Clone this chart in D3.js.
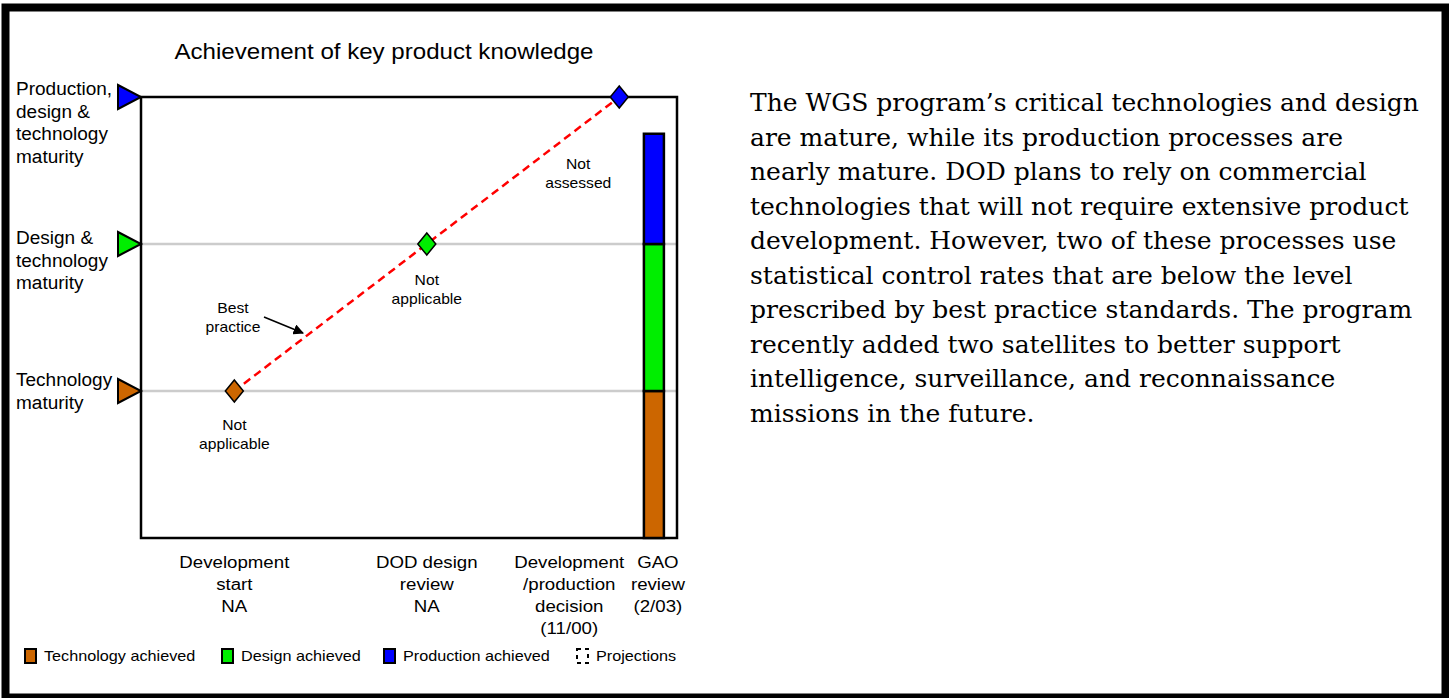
<!DOCTYPE html>
<html>
<head>
<meta charset="utf-8">
<script src="https://cdn.jsdelivr.net/npm/d3@7"></script>
<style>
  body { margin: 0; background: #fff; }
  svg { display: block; }
</style>
</head>
<body>
<script>
// knowledge levels, bottom to top
const levels = ["Technology maturity", "Design & technology maturity", "Production, design & technology maturity"];
const levelLabels = [["Technology", "maturity"], ["Design &", "technology", "maturity"], ["Production,", "design &", "technology", "maturity"]];
const levelColors = ["#cc6600", "#00ee00", "#0000ff"];

// milestones along the x axis
const milestones = ["Development start", "DOD design review", "Development/production decision"];
const milestoneLabels = [["Development", "start", "NA"], ["DOD design", "review", "NA"], ["Development", "/production", "decision", "(11/00)"]];
const bestPractice = [1, 2, 3];           // level expected at each milestone
const notes = [["Not", "applicable"], ["Not", "applicable"], ["Not", "assessed"]];

// GAO review: achieved knowledge (stacked)
const gaoLabel = ["GAO", "review", "(2/03)"];
const gaoPos = 2.18;
const achieved = [
  { name: "Technology achieved", from: 0, to: 1 },
  { name: "Design achieved", from: 1, to: 2 },
  { name: "Production achieved", from: 2, to: 2.75 }
];

const paragraph = [
  "The WGS program\u2019s critical technologies and design",
  "are mature, while its production processes are",
  "nearly mature. DOD plans to rely on commercial",
  "technologies that will not require extensive product",
  "development. However, two of these processes use",
  "statistical control rates that are below the level",
  "prescribed by best practice standards. The program",
  "recently added two satellites to better support",
  "intelligence, surveillance, and reconnaissance",
  "missions in the future."
];

const W = 1449, H = 698;
const sans = "'Liberation Sans', Arial, sans-serif";
const STRETCH = 1.08;
const svg = d3.select("body").append("svg").attr("width", W).attr("height", H);

// one text element per line, slightly widened like the original artwork
function addLines(x0, y0, dy, lines, size, anchor) {
  lines.forEach((s, k) => {
    const t = svg.append("text").attr("x", x0).attr("y", y0 + k * dy)
      .attr("font-family", sans).attr("font-size", size)
      .attr("text-anchor", anchor || "start").text(s);
    const L = t.node().getComputedTextLength();
    t.attr("textLength", L * STRETCH).attr("lengthAdjust", "spacingAndGlyphs");
  });
}

// outer frame
svg.append("rect").attr("x", 5.5).attr("y", 7.5).attr("width", 1440).attr("height", 690)
  .attr("fill", "none").attr("stroke", "#000").attr("stroke-width", 8);

const plot = { left: 141, top: 97, right: 677, bottom: 538 };
const x = d3.scaleLinear().domain([-0.485, 2.3]).range([plot.left, plot.right]);
const y = d3.scaleLinear().domain([0, 3]).range([plot.bottom, plot.top]);

// title
addLines(384, 59, 0, ["Achievement of key product knowledge"], 22.3, "middle");

// gray level lines
svg.selectAll(".grid").data([1, 2]).enter().append("line")
  .attr("x1", plot.left).attr("x2", plot.right)
  .attr("y1", d => y(d)).attr("y2", d => y(d))
  .attr("stroke", "#cccccc").attr("stroke-width", 2.5);

// plot box
svg.append("rect").attr("x", plot.left).attr("y", plot.top)
  .attr("width", plot.right - plot.left).attr("height", plot.bottom - plot.top)
  .attr("fill", "none").attr("stroke", "#000").attr("stroke-width", 2.5);

// level triangles + labels
levels.forEach((name, i) => {
  const ly = y(i + 1);
  svg.append("path")
    .attr("d", `M${plot.left - 23},${ly - 12} L${plot.left},${ly} L${plot.left - 23},${ly + 12} Z`)
    .attr("fill", levelColors[i]).attr("stroke", "#000").attr("stroke-width", 2);
  addLines(16, (i === 0 ? ly - 5 : ly) - (i === 2 ? 2 : 0), 22.5, levelLabels[i], 17.6);
});

// best practice dashed line
const pts = bestPractice.map((lv, i) => [x(i), y(lv)]);
svg.append("path").attr("d", d3.line()(pts))
  .attr("fill", "none").attr("stroke", "#ff0000").attr("stroke-width", 2.5)
  .attr("stroke-dasharray", "8,5").attr("stroke-dashoffset", -12);

// diamonds
svg.selectAll(".diamond").data(bestPractice).enter().append("path")
  .attr("d", (d, i) => {
    const cx = x(i), cy = y(d);
    return `M${cx},${cy - 11} L${cx + 9},${cy} L${cx},${cy + 11} L${cx - 9},${cy} Z`;
  })
  .attr("fill", d => levelColors[d - 1]).attr("stroke", "#000").attr("stroke-width", 1.5);

// notes under diamonds
const noteOffsets = [[0, 39], [0, 41], [-41, 72]];
notes.forEach((n, i) => {
  addLines(x(i) + noteOffsets[i][0], y(bestPractice[i]) + noteOffsets[i][1], 19, n, 14.5, "middle");
});

// best practice annotation
addLines(233, 313, 19, ["Best", "practice"], 14.5, "middle");
svg.append("defs").append("marker").attr("id", "ah").attr("viewBox", "0 0 10 10")
  .attr("refX", 9).attr("refY", 5).attr("markerWidth", 7).attr("markerHeight", 7)
  .attr("orient", "auto").append("path").attr("d", "M0,0 L10,5 L0,10 Z").attr("fill", "#000");
svg.append("line").attr("x1", 264).attr("y1", 317).attr("x2", 303).attr("y2", 333)
  .attr("stroke", "#000").attr("stroke-width", 1.5).attr("marker-end", "url(#ah)");

// GAO stacked bar
const barW = 20;
svg.selectAll(".seg").data(achieved).enter().append("rect")
  .attr("x", x(gaoPos) - barW / 2).attr("width", barW)
  .attr("y", d => y(d.to)).attr("height", d => y(d.from) - y(d.to))
  .attr("fill", (d, i) => levelColors[i]).attr("stroke", "#000").attr("stroke-width", 2.5);

// milestone labels
const labelX = [x(0), x(1), x(2) - 50];
milestoneLabels.forEach((lines, i) => addLines(labelX[i], 568, 22, lines, 17.3, "middle"));
addLines(x(gaoPos) + 4, 568, 22, gaoLabel, 17.3, "middle");

// legend
const legend = [
  { name: "Technology achieved", color: levelColors[0], x: 24 },
  { name: "Design achieved", color: levelColors[1], x: 221 },
  { name: "Production achieved", color: levelColors[2], x: 383 },
  { name: "Projections", color: "none", x: 576, dash: true }
];
legend.forEach(d => {
  svg.append("rect").attr("x", d.x + 1).attr("y", 649).attr("width", 11).attr("height", 14)
    .attr("fill", d.dash ? "#fff" : d.color).attr("stroke", "#000").attr("stroke-width", 2)
    .attr("stroke-dasharray", d.dash ? "4,4" : null);
  addLines(d.x + 20, 661, 0, [d.name], 15);
});

// paragraph
const para = svg.append("text").attr("font-family", "'DejaVu Serif', serif").attr("font-size", 25);
paragraph.forEach((s, k) => para.append("tspan").attr("x", 750).attr("y", 111 + k * 34.5).text(s));
</script>
</body>
</html>
